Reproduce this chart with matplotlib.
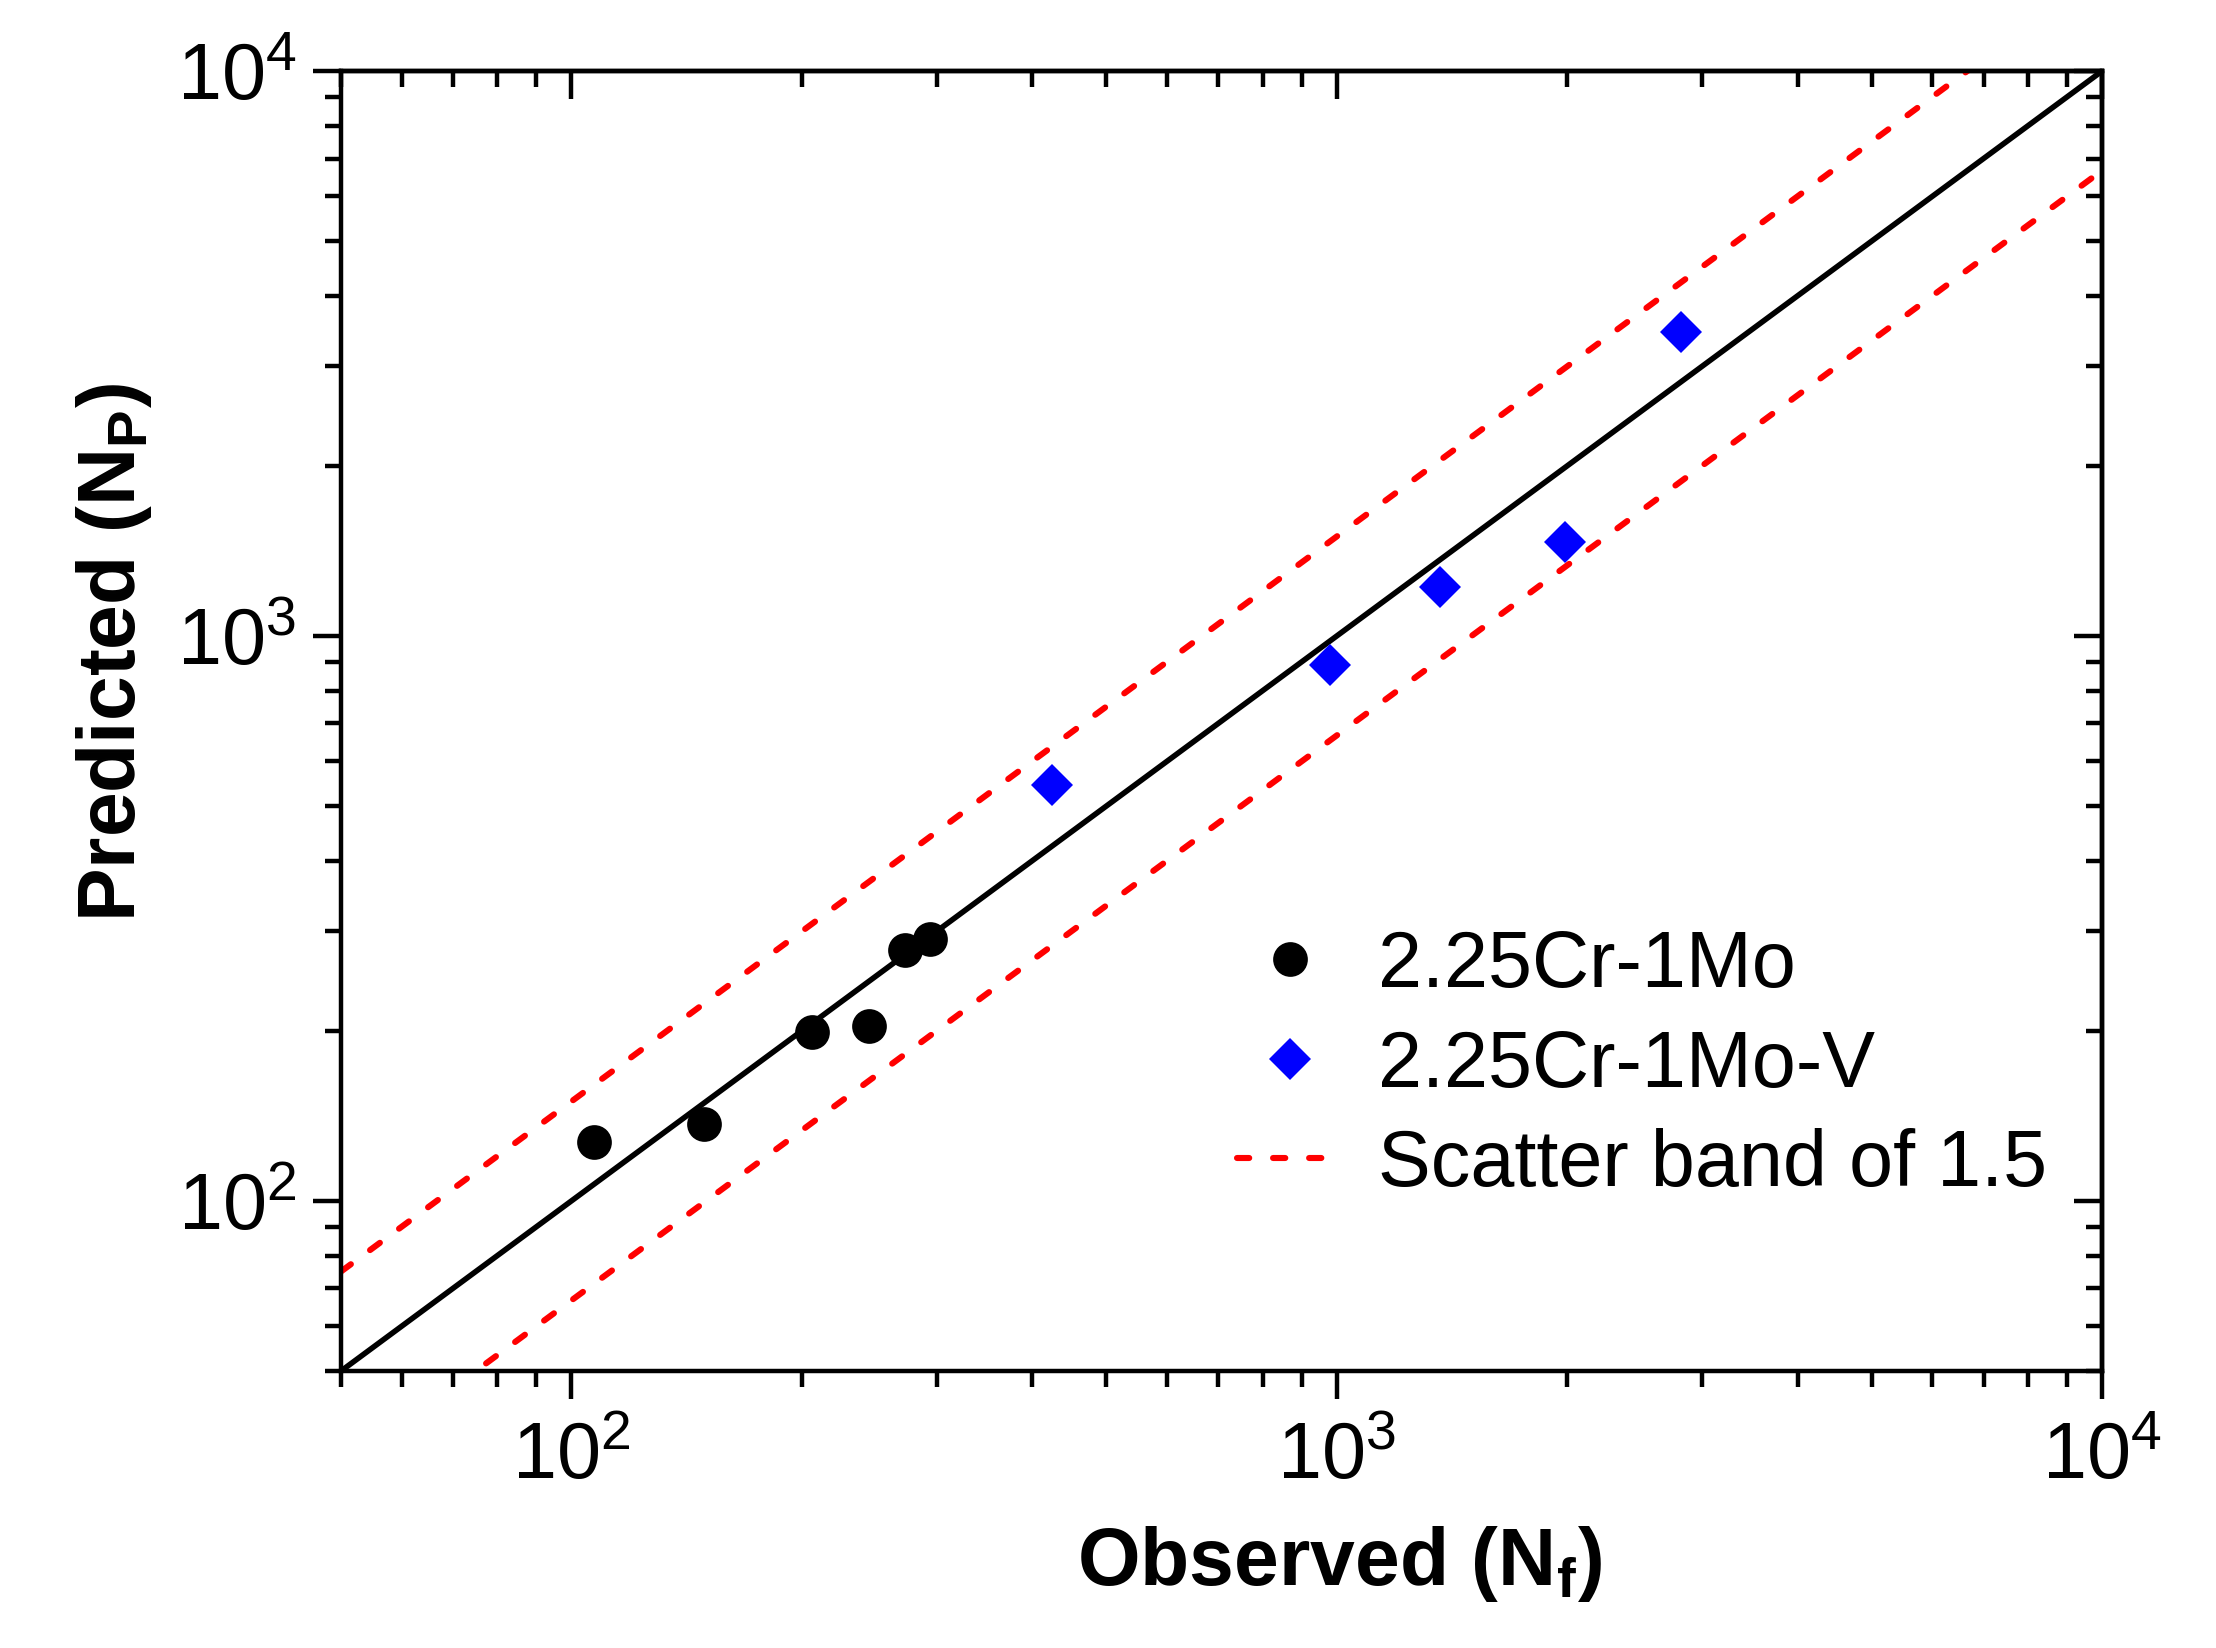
import numpy as np
import matplotlib
matplotlib.use("Agg")
import matplotlib.pyplot as plt
from matplotlib.ticker import NullFormatter

plt.rcParams['font.family'] = ['Liberation Sans', 'DejaVu Sans']
plt.rcParams['mathtext.fontset'] = 'custom'
plt.rcParams['mathtext.rm'] = 'Liberation Sans'
plt.rcParams['mathtext.it'] = 'Liberation Sans:italic'
plt.rcParams['mathtext.bf'] = 'Liberation Sans:bold'

# observed vs predicted life
cr_mo_obs = [107, 149, 206, 245, 273, 294]
cr_mo_pred = [127, 137, 199, 204, 278, 291]
cr_mo_v_obs = [425, 979, 1365, 1985, 2813]
cr_mo_v_pred = [544, 887, 1222, 1469, 3456]

# reference lines
band_factor = 1.5
axis_min, axis_max = 50, 1e4
line_x = np.array([axis_min, axis_max])

fig = plt.figure(figsize=(11.08, 8.24), dpi=200)
ax = fig.add_axes([0.1539, 0.1681, 0.7947, 0.7888])

dash = (0, (2.0, 3.9))
ax.plot(line_x, line_x, color='black', lw=2.0, zorder=2)
ax.plot(line_x, line_x * band_factor, color='red', lw=2.2,
        ls=dash, dash_capstyle='round', zorder=2,
        label='Scatter band of 1.5')
ax.plot(line_x, line_x / band_factor, color='red', lw=2.2,
        ls=dash, dash_capstyle='round', zorder=2)

ax.plot(cr_mo_obs, cr_mo_pred, 'o', color='black', ms=12.5, mew=0,
        label='2.25Cr-1Mo', zorder=3)
ax.plot(cr_mo_v_obs, cr_mo_v_pred, 'D', color='blue', ms=10.5, mew=0,
        label='2.25Cr-1Mo-V', zorder=3)

ax.set_xscale('log')
ax.set_yscale('log')
ax.set_xlim(axis_min, axis_max)
ax.set_ylim(axis_min, axis_max)
ax.xaxis.set_minor_formatter(NullFormatter())
ax.yaxis.set_minor_formatter(NullFormatter())

for sp in ax.spines.values():
    sp.set_linewidth(1.6)

ax.tick_params(which='both', direction='out', top=False, right=False,
               width=1.6, labelsize=28.5)
ax.tick_params(which='major', length=10)
ax.tick_params(which='minor', length=5.8)
ax.tick_params(axis='x', pad=8)
ax.tick_params(axis='y', pad=6)

# top and right ticks point inward
top = ax.secondary_xaxis('top')
top.tick_params(which='both', direction='in', width=1.6, labeltop=False)
top.tick_params(which='major', length=10)
top.tick_params(which='minor', length=5.8)
top.xaxis.set_minor_formatter(NullFormatter())
top.xaxis.set_major_formatter(NullFormatter())
right = ax.secondary_yaxis('right')
right.tick_params(which='both', direction='in', width=1.6, labelright=False)
right.tick_params(which='major', length=10)
right.tick_params(which='minor', length=5.8)
right.yaxis.set_minor_formatter(NullFormatter())
right.yaxis.set_major_formatter(NullFormatter())
for s in (top, right):
    for sp in s.spines.values():
        sp.set_linewidth(1.6)

ax.set_xlabel(r'Observed (N$_\mathbf{f}$)', fontsize=29, fontweight='bold')
ax.set_ylabel(r'Predicted (N$_\mathbf{P}$)', fontsize=29, fontweight='bold')
ax.xaxis.set_label_coords(0.567, -0.118)
ax.yaxis.set_label_coords(-0.106, 0.553)

handles, labels = ax.get_legend_handles_labels()
order = [1, 2, 0]
ax.legend([handles[i] for i in order], [labels[i] for i in order],
          loc='upper left', bbox_to_anchor=(0.509, 0.340), frameon=False,
          fontsize=28.5, borderpad=0, borderaxespad=0, handlelength=1.34,
          handletextpad=0.44, labelspacing=0.31)

fig.savefig('out.png', dpi=200)
